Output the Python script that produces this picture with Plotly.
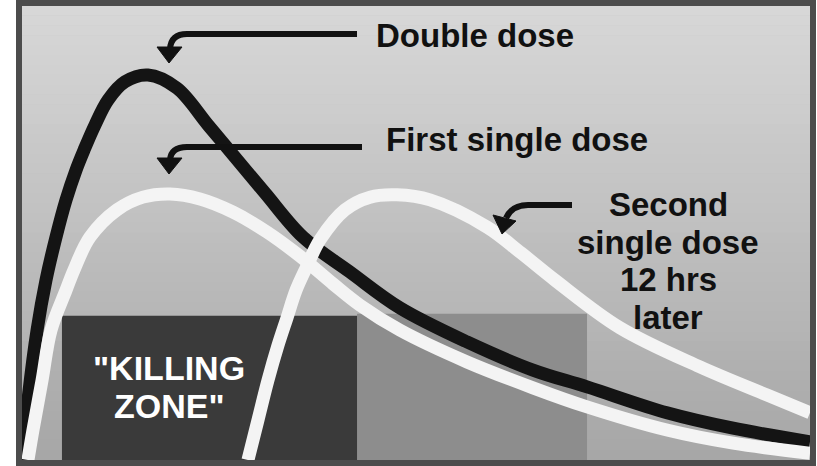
import plotly.graph_objects as go

# ---------------- data (hours after first dose, relative drug level) ----------------
double_t = [0, 0.32, 0.81, 1.29, 1.83, 2.37, 2.91, 3.34, 3.93, 4.63, 5.54, 6.78, 8.34, 10.01,
            11.46, 13.08, 15.12, 17.65, 20.34, 23.95, 27.50, 30.41, 34.71, 38.27, 42.41]
double_c = [0, 13.2, 28.6, 39.6, 49.1, 57.3, 63.9, 68.3, 73.8, 79.3, 83.3, 84.8, 81.9, 73.8,
            66.7, 58.8, 49.1, 41.4, 33.5, 26.0, 19.8, 16.1, 10.4, 7.0, 4.0]

first_t = [0.32, 0.59, 1.08, 1.56, 2.37, 2.80, 3.66, 5.11, 6.51, 7.97, 9.58, 11.36, 13.19,
           14.96, 16.74, 18.19, 20.34, 23.95, 27.50, 30.41, 34.71, 38.27, 42.41]
first_c = [0, 6.6, 17.6, 28.6, 37.4, 41.9, 49.1, 55.1, 57.9, 58.6, 57.5, 54.6, 50.2,
           44.9, 38.8, 34.1, 28.6, 21.6, 15.9, 11.7, 6.6, 3.7, 1.5]

second_t = [12.16, 12.70, 13.24, 13.78, 14.26, 14.75, 15.29, 16.04, 17.38, 18.73, 20.18,
            21.96, 25.03, 26.86, 28.69, 32.19, 36.49, 40.10, 42.41]
second_c = [0, 8.8, 17.6, 25.3, 31.3, 37.4, 42.3, 48.5, 55.1, 57.9, 58.4,
            57.3, 51.3, 45.6, 39.6, 29.1, 20.5, 14.3, 10.4]

killing_zone_t = [2.15, 18.03]      # start / end of the "killing zone"
upper_zone_t = [18.03, 30.41]       # lighter zone following it
zone_level = [31.8, 32.2]           # threshold levels

labels = ["Double dose", "First single dose"]
second_label = ["Second", "single dose", "12 hrs", "later"]
zone_label = ['"KILLING', 'ZONE"']

# ---------------- layout helpers (decoration placement only) ----------------
W, H = 817, 466
L, R, T, B = 22, 810, 6, 460
X_MAX = 42.41
Y_MAX = 100.0


def tx(px):
    return (px - L) / (R - L) * X_MAX


def cy(py):
    return (B - py) / (B - T) * Y_MAX


fig = go.Figure()

# background gradient bands
shapes = []
n = 46
top_col = (216, 216, 216)
bot_col = (166, 166, 166)
for i in range(n):
    f = (i + 0.5) / n
    col = tuple(round(top_col[k] + (bot_col[k] - top_col[k]) * f) for k in range(3))
    shapes.append(dict(type="rect", xref="paper", yref="paper", x0=0, x1=1,
                       y0=1 - (i + 1) / n, y1=1 - i / n + 0.001, layer="below",
                       line=dict(width=0), fillcolor="rgb(%d,%d,%d)" % col))

# zones
shapes.append(dict(type="rect", xref="x", yref="y", x0=upper_zone_t[0], x1=upper_zone_t[1],
                   y0=0, y1=zone_level[1], layer="below", line=dict(width=0),
                   fillcolor="#8d8d8d"))
shapes.append(dict(type="rect", xref="x", yref="y", x0=killing_zone_t[0], x1=killing_zone_t[1],
                   y0=0, y1=zone_level[0], layer="below", line=dict(width=0),
                   fillcolor="#3a3a3a"))


def arrow(shaft_pts, head_pts):
    (x0, y0), (x1, y1), (qx, qy), (x2, y2) = shaft_pts
    p = "M %.3f,%.3f L %.3f,%.3f Q %.3f,%.3f %.3f,%.3f" % (
        tx(x0), cy(y0), tx(x1), cy(y1), tx(qx), cy(qy), tx(x2), cy(y2))
    shapes.append(dict(type="path", xref="x", yref="y", path=p, layer="above",
                       line=dict(color="#111111", width=6)))
    hp = "M " + " L ".join("%.3f,%.3f" % (tx(a), cy(b)) for a, b in head_pts) + " Z"
    shapes.append(dict(type="path", xref="x", yref="y", path=hp, layer="above",
                       line=dict(color="#111111", width=1), fillcolor="#111111"))


arrow([(357, 34), (187, 34), (171, 34), (170, 49)], [(157, 47), (182, 47), (169, 63)])
arrow([(362, 147), (187, 147), (171, 147), (170, 160)], [(157, 158), (182, 158), (169, 174)])
arrow([(572, 205), (528, 205), (512, 205), (506, 218)], [(493, 215), (516, 221), (502, 234)])

# frame
shapes.append(dict(type="rect", xref="paper", yref="paper",
                   x0=(19 - L) / (R - L), x1=(813 - L) / (R - L),
                   y0=(B - 463) / (B - T), y1=(B - 3) / (B - T),
                   layer="above", line=dict(color="#4c4c4c", width=6)))

# curves
fig.add_trace(go.Scatter(x=double_t, y=double_c, mode="lines",
                         line=dict(color="#141414", width=13, shape="spline", smoothing=1.0),
                         hoverinfo="skip", name="Double dose"))
fig.add_trace(go.Scatter(x=first_t, y=first_c, mode="lines",
                         line=dict(color="#f4f4f4", width=13, shape="spline", smoothing=1.0),
                         hoverinfo="skip", name="First single dose"))
fig.add_trace(go.Scatter(x=second_t, y=second_c, mode="lines",
                         line=dict(color="#f4f4f4", width=13, shape="spline", smoothing=1.0),
                         hoverinfo="skip", name="Second single dose"))

FONT = "Liberation Sans, Arial, sans-serif"
DARK = dict(family=FONT, size=33, color="#111111", weight="bold")
annotations = []
annotations.append(dict(x=tx(374), y=cy(35), text=labels[0], xanchor="left", yanchor="middle",
                        showarrow=False, font=DARK))
annotations.append(dict(x=tx(384), y=cy(139), text=labels[1], xanchor="left", yanchor="middle",
                        showarrow=False, font=DARK))
for txt, py in zip(second_label, [204, 242, 279, 317]):
    annotations.append(dict(x=tx(668), y=cy(py), text=txt, xanchor="center", yanchor="middle",
                            showarrow=False, font=DARK))
for txt, py in zip(zone_label, [368, 406]):
    annotations.append(dict(x=tx(169), y=cy(py), text=txt, xanchor="center", yanchor="middle",
                            showarrow=False,
                            font=dict(family=FONT, size=34, color="#ffffff", weight="bold")))

fig.update_layout(
    width=W, height=H,
    margin=dict(l=L, r=W - R, t=T, b=H - B, pad=0),
    paper_bgcolor="#ffffff",
    plot_bgcolor="#c0c0c0",
    showlegend=False,
    shapes=shapes,
    annotations=annotations,
    xaxis=dict(range=[0, X_MAX], visible=False, fixedrange=True),
    yaxis=dict(range=[0, Y_MAX], visible=False, fixedrange=True),
)

fig.write_html("out.html", config={"displayModeBar": False},
               post_script="document.body.style.margin='0px';")
